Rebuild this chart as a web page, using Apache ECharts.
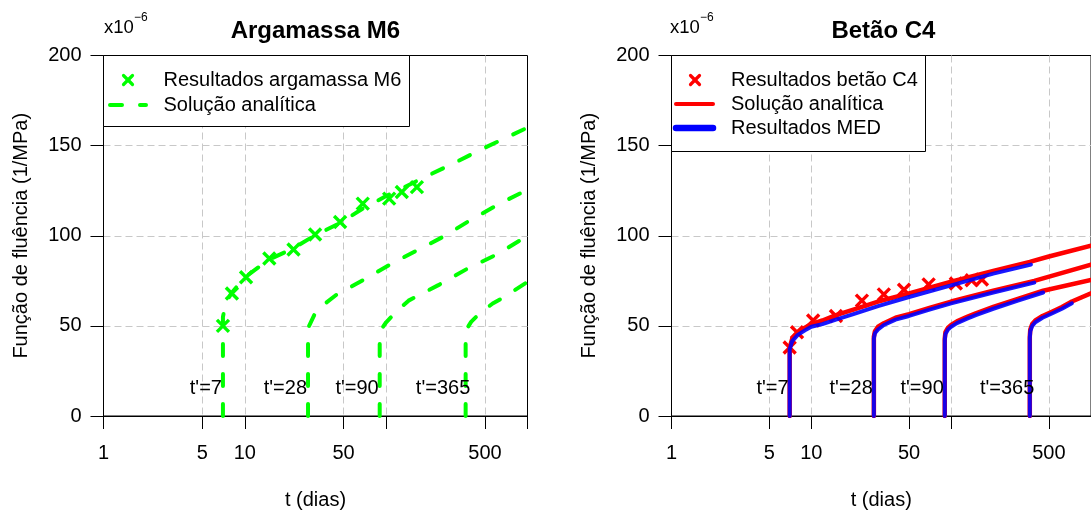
<!DOCTYPE html>
<html><head><meta charset="utf-8">
<script src="https://cdn.jsdelivr.net/npm/echarts@6/dist/echarts.min.js"></script>
<style>html,body{margin:0;padding:0;background:#fff}#c{width:1091px;height:517px}</style>
</head><body><div id="c"></div>
<script>
const FONT = "'Liberation Sans', Arial, Helvetica, sans-serif";

// Axis ticks / labels
const xTicks = [1, 5, 10, 50, 100, 500, 1000];
const xLabels = [1, 5, 10, 50, 500];
const yMin = 0, yMax = 200, yStep = 50;

// Loading-age annotations
const tLabels = ["t'=7", "t'=28", "t'=90", "t'=365"];
const tLabelX = [7, 28, 90, 400];
const tLabelY = 15;

// ---- Argamassa M6 ----
const ageM6 = [7, 8.1, 10.2, 14.9, 22.1, 31.4, 47.2, 68.3, 105, 129, 165];
const resM6 = [50, 68, 77, 87.4, 92.4, 100.7, 107.6, 117.8, 120.6, 124.3, 127];

const tM6a = [7, 7, 7.3, 8, 10, 15, 22, 31, 47, 68, 100, 193, 297, 474, 1000];
const jM6a = [0, 55, 62, 68, 77, 87, 93, 100, 107, 115, 122, 133, 140, 148, 160];
const tM6b = [28, 28, 28.5, 31, 35, 44, 69, 112, 254, 391, 641, 1000];
const jM6b = [0, 44, 50, 56, 61, 67, 75.5, 85, 99.5, 108.5, 118, 125.5];
const tM6c = [90, 90, 91, 95, 100, 120, 144, 234, 377, 620, 1000];
const jM6c = [0, 42, 46, 49.5, 52, 58.5, 64, 72.6, 81.8, 90, 100];
const tM6d = [365, 365, 367, 380, 399, 460, 567, 685, 1000];
const jM6d = [0, 42, 46, 49.5, 52.2, 57, 62.4, 66, 74.4];

// ---- Betão C4 ----
const ageC4 = [7, 7.9, 10.3, 15, 23, 33, 46, 69, 108, 140, 166];
const resC4 = [38, 46.5, 53, 55.5, 64, 67.5, 70, 73, 73.5, 75.3, 75.7];

// analytic (red)
const tR7 = [7, 7, 7.3, 8, 9, 10, 12, 15, 20, 30, 50, 100, 200, 365, 500, 1000];
const jR7 = [0, 38, 43, 46.5, 49, 51, 53, 56, 59, 63.5, 68, 74.5, 80.5, 85.5, 88.5, 94.5];
const tR28 = [28, 28, 28.5, 30, 33, 40, 50, 70, 100, 200, 393, 1000];
const jR28 = [0, 44, 47, 49.5, 51.5, 54.5, 56.5, 60, 63.5, 69.5, 75, 84];
const tR90 = [90, 90, 91, 95, 100, 110, 130, 150, 200, 300, 455, 1000];
const jR90 = [0, 43, 46.5, 49, 50.5, 52.5, 55, 57, 60.5, 65, 69.5, 75.5];
const tR365 = [365, 365, 368, 380, 400, 450, 530, 620, 730, 1000];
const jR365 = [0, 44, 48, 51, 53, 55.5, 58, 60.5, 63.5, 68];

// MED results (blue)
const tB7 = [7, 7, 7.3, 8, 9, 10, 12, 15, 20, 30, 50, 100, 200, 372];
const jB7 = [0, 37, 41.5, 45, 47.5, 49.5, 51, 53.5, 56.5, 61, 66, 72.5, 79, 84];
const tB28 = [28, 28, 28.5, 30, 33, 40, 50, 70, 100, 200, 393];
const jB28 = [0, 43, 46, 48, 50.5, 53.5, 55.5, 59, 62.5, 68.5, 74];
const tB90 = [90, 90, 91, 95, 100, 110, 130, 150, 200, 300, 455];
const jB90 = [0, 42, 45.5, 48, 49.5, 51.5, 54, 56, 59.5, 64, 68.5];
const tB365 = [365, 365, 368, 380, 400, 450, 530, 620, 730];
const jB365 = [0, 43, 47, 50, 52, 54.5, 57, 59.5, 62.5];

const GREEN = '#00ff00', RED = '#ff0000', BLUE = '#0000ff';
const zip = (a, b) => a.map((v, i) => [v, b[i]]);
const CROSS = 'path://M0,0L10,10M10,0L0,10';

function xAxisDef(idx) {
  return {
    type: 'log', logBase: 10, min: 1, max: 1000, gridIndex: idx,
    name: 't (dias)', nameLocation: 'middle', nameGap: 74,
    nameTextStyle: { fontSize: 20, color: '#000', fontFamily: FONT },
    axisLine: { show: true, onZero: false, lineStyle: { color: '#000', width: 1 } },
    axisTick: { show: true, length: 13, customValues: xTicks, lineStyle: { color: '#000', width: 1 } },
    axisLabel: { customValues: xLabels, margin: 27, fontSize: 20, color: '#000', fontFamily: FONT,
                 showMinLabel: true, showMaxLabel: true },
    splitLine: { show: true, showMinLine: false, showMaxLine: false,
                 lineStyle: { color: '#c8c8c8', width: 1, type: [7, 4] } },
    minorTick: { show: false }, minorSplitLine: { show: false }
  };
}
function yAxisDef(idx) {
  return {
    type: 'value', min: yMin, max: yMax, interval: yStep, gridIndex: idx,
    name: 'Função de fluência (1/MPa)', nameLocation: 'middle', nameGap: 72,
    nameTextStyle: { fontSize: 20, color: '#000', fontFamily: FONT },
    axisLine: { show: true, lineStyle: { color: '#000', width: 1 } },
    axisTick: { show: true, length: 13, lineStyle: { color: '#000', width: 1 } },
    axisLabel: { margin: 22, fontSize: 20, color: '#000', fontFamily: FONT },
    splitLine: { show: true, showMinLine: false, showMaxLine: false,
                 lineStyle: { color: '#c8c8c8', width: 1, type: [7, 4] } }
  };
}

function lineSeries(idx, t, j, color, width, dash, z, opacity) {
  return {
    type: 'line', xAxisIndex: idx, yAxisIndex: idx, data: zip(t, j),
    symbol: 'none', showSymbol: false, smooth: false, silent: true, z: z,
    lineStyle: { color: color, width: width, type: dash || 'solid', cap: 'round', join: 'round',
                 opacity: opacity == null ? 1 : opacity }
  };
}
function crossSeries(idx, t, j, color) {
  return {
    type: 'scatter', xAxisIndex: idx, yAxisIndex: idx, data: zip(t, j),
    symbol: CROSS, symbolSize: 12, silent: true, z: 3,
    itemStyle: { color: 'none', borderColor: color, borderWidth: 3.4, opacity: 1 }
  };
}
function labelSeries(idx) {
  return {
    type: 'scatter', xAxisIndex: idx, yAxisIndex: idx, symbolSize: 0, silent: true, z: 6,
    itemStyle: { opacity: 1 },
    data: tLabelX.map((x, i) => ({ value: [x, tLabelY], name: tLabels[i] })),
    label: { show: true, position: 'left', distance: 1, formatter: p => p.name,
             fontSize: 20, color: '#000', opacity: 1, fontFamily: FONT }
  };
}

const dashG = [12, 18];
const series = [
  crossSeries(0, ageM6, resM6, GREEN),
  lineSeries(0, tM6a, jM6a, GREEN, 4, dashG, 4),
  lineSeries(0, tM6b, jM6b, GREEN, 4, dashG, 4),
  lineSeries(0, tM6c, jM6c, GREEN, 4, dashG, 4),
  lineSeries(0, tM6d, jM6d, GREEN, 4, dashG, 4),
  labelSeries(0),
  crossSeries(1, ageC4, resC4, RED),
  lineSeries(1, tR7, jR7, RED, 4.5, null, 4),
  lineSeries(1, tR28, jR28, RED, 4.5, null, 4),
  lineSeries(1, tR90, jR90, RED, 4.5, null, 4),
  lineSeries(1, tR365, jR365, RED, 4.5, null, 4),
  lineSeries(1, tB7, jB7, BLUE, 4, null, 5, 0.9),
  lineSeries(1, tB28, jB28, BLUE, 4, null, 5, 0.9),
  lineSeries(1, tB90, jB90, BLUE, 4, null, 5, 0.9),
  lineSeries(1, tB365, jB365, BLUE, 4, null, 5, 0.9),
  labelSeries(1)
];

function txt(x, y, s, size, opts) {
  return Object.assign({ type: 'text', x: x, y: y, z: 101, silent: true,
    style: Object.assign({ text: s, fontSize: size, fontFamily: FONT, fill: '#000',
      align: 'left', verticalAlign: 'middle' }, opts || {}) });
}
function seg(x1, y1, x2, y2, color, w, dash) {
  return { type: 'line', z: 101, silent: true, shape: { x1, y1, x2, y2 },
    style: { stroke: color, lineWidth: w, lineCap: 'round', lineDash: dash || null } };
}

const graphic = [
  // titles
  txt(315.4, 31, 'Argamassa M6', 24, { fontWeight: 'bold', align: 'center' }),
  txt(883.4, 31, 'Betão C4', 24, { fontWeight: 'bold', align: 'center' }),
  // scale factor
  txt(104, 28, 'x10', 18.5), txt(134, 18, '−6', 12),
  txt(670, 28, 'x10', 18.5), txt(700, 18, '−6', 12),
  // left legend
  { type: 'rect', z: 100, silent: true, shape: { x: 103.5, y: 55.5, width: 306, height: 71 },
    style: { fill: '#fff', stroke: '#000', lineWidth: 1 } },
  seg(123.5, 75.5, 132.5, 84.5, GREEN, 3.2), seg(132.5, 75.5, 123.5, 84.5, GREEN, 3.2),
  txt(163.5, 80, 'Resultados argamassa M6', 20),
  seg(110, 105, 146, 105, GREEN, 4, [12, 18]),
  txt(163.5, 105, 'Solução analítica', 20),
  // right legend
  { type: 'rect', z: 100, silent: true, shape: { x: 671.5, y: 55.5, width: 254, height: 96 },
    style: { fill: '#fff', stroke: '#000', lineWidth: 1 } },
  seg(690.5, 75.5, 699.5, 84.5, RED, 3.2), seg(699.5, 75.5, 690.5, 84.5, RED, 3.2),
  txt(731, 80, 'Resultados betão C4', 20),
  seg(676, 104, 713, 104, RED, 4),
  txt(731, 104, 'Solução analítica', 20),
  seg(676, 128, 713, 128, BLUE, 6.5),
  txt(731, 128, 'Resultados MED', 20)
];

const chart = echarts.init(document.getElementById('c'), null, { renderer: 'canvas' });
chart.setOption({
  animation: false,
  backgroundColor: '#fff',
  textStyle: { fontFamily: FONT },
  grid: [
    { left: 103.5, top: 55.5, width: 424, height: 360.5, show: true, borderColor: '#000', borderWidth: 1, backgroundColor: 'transparent' },
    { left: 671.5, top: 55.5, width: 424, height: 360.5, show: true, borderColor: '#000', borderWidth: 1, backgroundColor: 'transparent' }
  ],
  xAxis: [xAxisDef(0), xAxisDef(1)],
  yAxis: [yAxisDef(0), yAxisDef(1)],
  series: series,
  graphic: graphic
});
</script></body></html>
